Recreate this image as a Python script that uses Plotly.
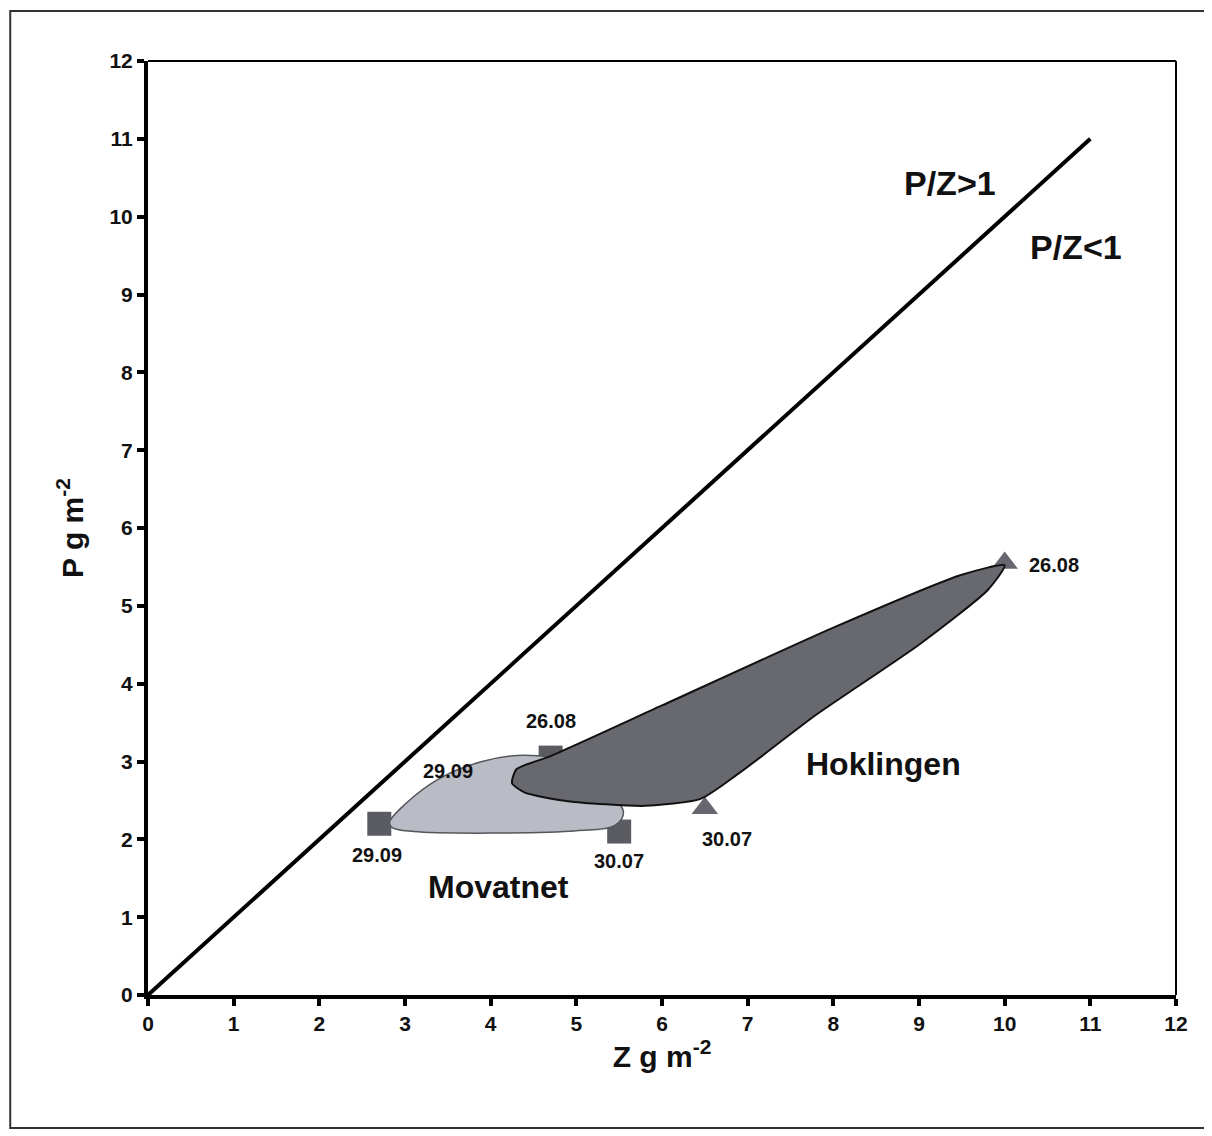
import plotly.graph_objects as go

# ---- data ----
mov_dates = ["29.09", "26.08", "30.07"]
mov_z = [2.7, 4.7, 5.5]
mov_p = [2.2, 3.05, 2.1]

hok_dates = ["29.09", "26.08", "30.07"]
hok_z = [4.3, 10.0, 6.5]
hok_p = [2.75, 5.55, 2.4]

# envelope outlines (data units)
mov_env_z = [2.82, 3.0, 3.4, 3.9, 4.4, 4.9, 5.3, 5.55, 5.45, 5.0, 4.0, 3.1, 2.85, 2.82]
mov_env_p = [2.22, 2.45, 2.78, 3.0, 3.08, 3.0, 2.7, 2.35, 2.18, 2.11, 2.08, 2.1, 2.15, 2.22]

hok_env_z = [4.25, 4.3, 4.7, 6.0, 8.0, 9.5, 10.0, 9.8, 9.0, 7.8, 6.9, 6.45, 5.8, 4.9, 4.4, 4.25]
hok_env_p = [2.72, 2.9, 3.07, 3.72, 4.72, 5.4, 5.52, 5.2, 4.5, 3.6, 2.85, 2.52, 2.43, 2.49, 2.6, 2.72]

line_z = [0, 11]
line_p = [0, 11]

ticks = list(range(0, 13))
tick_labels = [str(t) for t in ticks]

FONT = "Liberation Sans, Arial"
fig = go.Figure()

fig.add_trace(go.Scatter(x=line_z, y=line_p, mode="lines",
                         line=dict(color="black", width=4), hoverinfo="skip"))

fig.add_trace(go.Scatter(x=mov_z, y=mov_p, mode="markers",
                         marker=dict(symbol="square", size=24, color="#5b5b62")))
fig.add_trace(go.Scatter(x=hok_z, y=hok_p, mode="markers",
                         marker=dict(symbol="triangle-up", size=23, color="#66666e")))

fig.add_trace(go.Scatter(x=mov_env_z, y=mov_env_p, mode="lines", fill="toself",
                         line=dict(color="#55565c", width=1.5, shape="spline", smoothing=1.0),
                         fillcolor="#b9bcc4"))
fig.add_trace(go.Scatter(x=hok_env_z, y=hok_env_p, mode="lines", fill="toself",
                         line=dict(color="#111111", width=2, shape="spline", smoothing=0.6),
                         fillcolor="#68686f"))

lbl_font = dict(family=FONT, size=20, color="#111111")
# point labels
fig.add_annotation(x=mov_z[0], y=mov_p[0], text="<b>29.09</b>", showarrow=False, yshift=-31, xshift=-2, font=lbl_font)
fig.add_annotation(x=mov_z[1], y=mov_p[1], text="<b>26.08</b>", showarrow=False, yshift=37, font=lbl_font)
fig.add_annotation(x=mov_z[2], y=mov_p[2], text="<b>30.07</b>", showarrow=False, yshift=-29, font=lbl_font)
fig.add_annotation(x=hok_z[0], y=hok_p[0], text="<b>29.09</b>", showarrow=False, xshift=-68, yshift=10, font=lbl_font)
fig.add_annotation(x=hok_z[1], y=hok_p[1], text="<b>26.08</b>", showarrow=False, xshift=49, yshift=-2, font=lbl_font)
fig.add_annotation(x=hok_z[2], y=hok_p[2], text="<b>30.07</b>", showarrow=False, xshift=22, yshift=-31, font=lbl_font)

big_font = dict(family=FONT, size=34, color="#111111")
fig.add_annotation(x=9.36, y=10.43, text="<b>P/Z>1</b>", showarrow=False, font=big_font)
fig.add_annotation(x=10.83, y=9.61, text="<b>P/Z<1</b>", showarrow=False, font=big_font)
fig.add_annotation(x=8.59, y=2.97, text="<b>Hoklingen</b>", showarrow=False, font=dict(family=FONT, size=32, color="#111111"))
fig.add_annotation(x=4.09, y=1.39, text="<b>Movatnet</b>", showarrow=False, font=dict(family=FONT, size=32, color="#111111"))

axis_common = dict(range=[0, 12], tickmode="array", tickvals=ticks,
                   ticktext=["<b>%s</b>" % s for s in tick_labels],
                   ticks="outside", ticklen=7, tickwidth=4,
                   tickcolor="black", showline=True, linecolor="black", linewidth=4,
                   showgrid=False, zeroline=False,
                   tickfont=dict(family=FONT, size=21, color="#111111"))

fig.update_xaxes(**axis_common,
                 title=dict(text="<b>Z g m<sup>-2</sup></b>", standoff=12,
                            font=dict(family=FONT, size=30, color="#111111")))
fig.update_yaxes(**axis_common,
                 title=dict(text="<b>P g m<sup>-2</sup></b>", standoff=18,
                            font=dict(family=FONT, size=30, color="#111111")))

# thin top/right plot border and outer frame
fig.add_shape(type="line", xref="paper", yref="paper", x0=0, x1=1, y0=1, y1=1, line=dict(color="black", width=2))
fig.add_shape(type="line", xref="paper", yref="paper", x0=1, x1=1, y0=0, y1=1, line=dict(color="black", width=2))
fig.add_shape(type="rect", xref="paper", yref="paper", x0=-0.134, x1=1.031, y0=-0.1424, y1=1.0535,
              line=dict(color="#333333", width=2))

fig.update_layout(width=1204, height=1128, showlegend=False,
                  margin=dict(l=140, r=36, t=53, b=141),
                  plot_bgcolor="white", paper_bgcolor="white")

fig.write_html("out.html")
